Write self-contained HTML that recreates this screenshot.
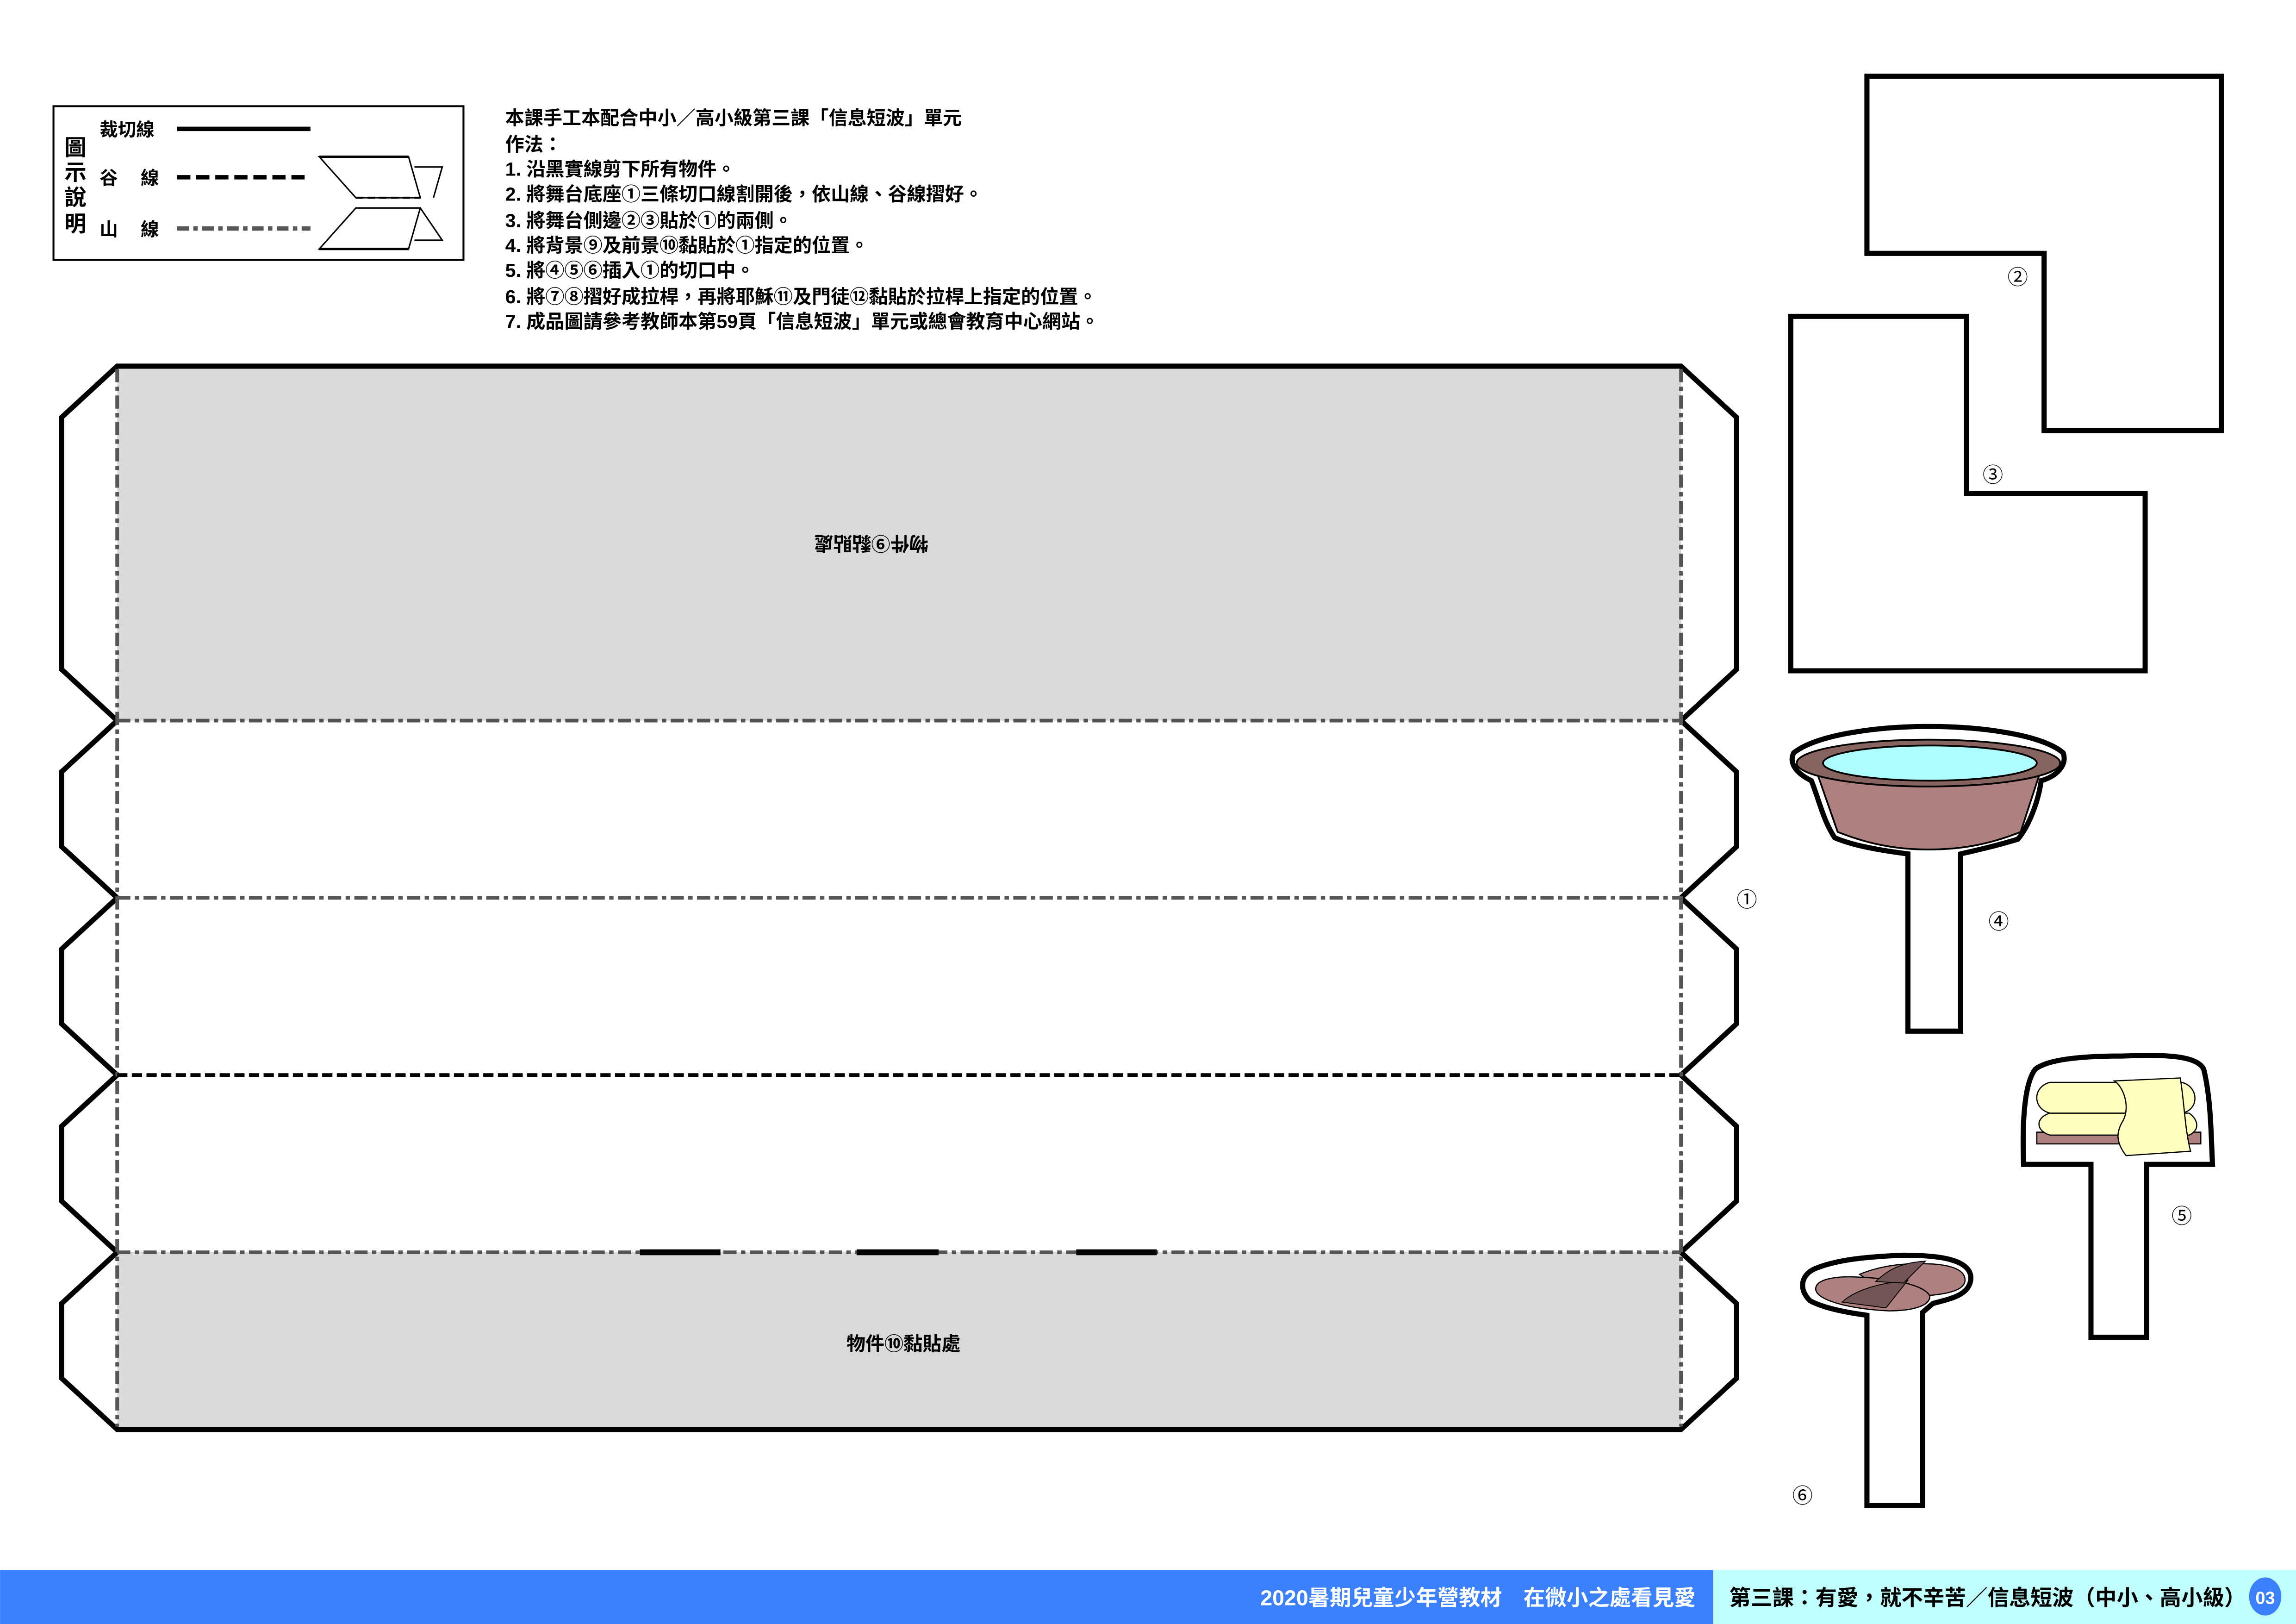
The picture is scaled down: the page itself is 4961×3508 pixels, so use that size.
<!DOCTYPE html>
<html><head><meta charset="utf-8"><style>
html,body{margin:0;padding:0;background:#fff;}
svg{display:block;}
text{font-family:"Liberation Sans","Noto Sans CJK TC",sans-serif;}
</style></head><body>
<svg width="4961" height="3508" viewBox="0 0 1568 1108.8" xmlns="http://www.w3.org/2000/svg">
<rect width="1568" height="1109" fill="#fff"/>
<!-- legend -->
<rect x="36.5" y="72.5" width="280" height="105" fill="none" stroke="#000" stroke-width="1.3"/>
<g font-size="15" font-weight="bold">
<text x="44" y="106">圖</text><text x="44" y="123">示</text><text x="44" y="140">說</text><text x="44" y="158">明</text>
</g>
<g font-size="12.5" font-weight="bold">
<text x="68" y="93">裁切線</text>
<text x="68" y="126">谷</text><text x="96" y="126">線</text>
<text x="68" y="161">山</text><text x="96" y="161">線</text>
</g>
<line x1="121" y1="88" x2="212" y2="88" stroke="#000" stroke-width="3"/>
<line x1="121" y1="121" x2="212" y2="121" stroke="#000" stroke-width="3" stroke-dasharray="9,4"/>
<line x1="121" y1="156" x2="212" y2="156" stroke="#555" stroke-width="3" stroke-dasharray="8,3,3,3"/>
<path d="M218,107 H279 L287,135 H243 Z" fill="#fff" stroke="#000" stroke-width="1"/>
<path d="M283,114 H302 L296,135" fill="none" stroke="#000" stroke-width="1"/>
<line x1="218" y1="107" x2="279" y2="107" stroke="#000" stroke-width="1.6"/>
<line x1="243" y1="135" x2="287" y2="135" stroke="#000" stroke-width="1.4" stroke-dasharray="5,3"/>
<path d="M243,142 H287 L279,170 H218 Z" fill="#fff" stroke="#000" stroke-width="1"/>
<path d="M287,142 L302,164 H283" fill="none" stroke="#000" stroke-width="1"/>
<line x1="218" y1="170" x2="279" y2="170" stroke="#000" stroke-width="1.6"/>
<!-- instructions -->
<g font-size="13" font-weight="bold">
<text x="345" y="85">本課手工本配合中小／高小級第三課「信息短波」單元</text>
<text x="345" y="103">作法：</text>
<text x="345" y="120">1. 沿黑實線剪下所有物件。</text>
<text x="345" y="137">2. 將舞台底座①三條切口線割開後，依山線、谷線摺好。</text>
<text x="345" y="155">3. 將舞台側邊②③貼於①的兩側。</text>
<text x="345" y="172">4. 將背景⑨及前景⑩黏貼於①指定的位置。</text>
<text x="345" y="189">5. 將④⑤⑥插入①的切口中。</text>
<text x="345" y="207">6. 將⑦⑧摺好成拉桿，再將耶穌⑪及門徒⑫黏貼於拉桿上指定的位置。</text>
<text x="345" y="224">7. 成品圖請參考教師本第59頁「信息短波」單元或總會教育中心網站。</text>
</g>
<!-- stage -->
<rect x="80" y="250" width="1068" height="242" fill="#d9d9d9"/>
<rect x="80" y="855" width="1068" height="121" fill="#d9d9d9"/>
<path d="M80,250 H1148 L1186,285 V457 L1148,492 L1186,527 V578 L1148,613 L1186,648 V699 L1148,734 L1186,769 V820 L1148,855 L1186,890 V941 L1148,976 H80 L42,941 V890 L80,855 L42,820 V769 L80,734 L42,699 V648 L80,613 L42,578 V527 L80,492 L42,457 V285 Z" fill="none" stroke="#000" stroke-width="3.5" stroke-linejoin="miter"/>
<g stroke="#555" stroke-width="2.5" stroke-dasharray="9,3,3,3">
<line x1="80" y1="252" x2="80" y2="974"/>
<line x1="1148" y1="252" x2="1148" y2="974"/>
<line x1="80" y1="492" x2="1148" y2="492"/>
<line x1="80" y1="613" x2="1148" y2="613"/>
<line x1="80" y1="855" x2="1148" y2="855"/>
</g>
<line x1="80" y1="734" x2="1148" y2="734" stroke="#000" stroke-width="2.5" stroke-dasharray="7,3"/>
<g stroke="#000" stroke-width="4">
<line x1="437" y1="855" x2="492" y2="855"/><line x1="585" y1="855" x2="641" y2="855"/><line x1="735" y1="855" x2="790" y2="855"/>
</g>
<text x="595" y="370" font-size="13" font-weight="bold" text-anchor="middle" transform="rotate(180 595 370)" dominant-baseline="middle">物件⑨黏貼處</text>
<text x="617" y="922" font-size="13" font-weight="bold" text-anchor="middle">物件⑩黏貼處</text>
<text x="1193" y="619" font-size="14" text-anchor="middle">①</text>
<!-- pieces 2,3 -->
<path d="M1275,52 H1517 V294 H1396 V173 H1275 Z" fill="#fff" stroke="#000" stroke-width="3.5"/>
<text x="1378" y="194" font-size="14" text-anchor="middle">②</text>
<path d="M1223,216 H1343 V337 H1465 V458 H1223 Z" fill="#fff" stroke="#000" stroke-width="3.5"/>
<text x="1361" y="329" font-size="14" text-anchor="middle">③</text>
<!-- bowl 4 -->
<path d="M1303,704 V583 C1280,580 1265,577 1253,572 C1245,560 1242,545 1237,533 C1225,527 1222,520 1225,514 C1240,502 1280,496 1317,496 C1355,496 1395,502 1409,514 C1412,522 1405,530 1394,533 C1392,548 1385,565 1378,573 C1365,577 1352,580 1339,583 V704 Z" fill="#fff" stroke="#000" stroke-width="3.5"/>
<path d="M1240,525 L1255,568 C1280,578 1300,580 1317,580 C1335,580 1355,578 1380,568 L1394,525 Z" fill="#ae8080" stroke="#000" stroke-width="1.2"/>
<ellipse cx="1317" cy="521" rx="90" ry="16" fill="#886460" stroke="#000" stroke-width="1.2"/>
<ellipse cx="1318" cy="521" rx="73" ry="12" fill="#aefeff" stroke="#000" stroke-width="1.2"/>
<text x="1365" y="634" font-size="14" text-anchor="middle">④</text>
<!-- towel 5 -->
<path d="M1428,913 V795 H1382 C1381,770 1382,740 1390,730 C1400,722 1430,721 1450,721 C1475,720 1500,720 1505,730 C1510,750 1510,775 1511,795 H1466 V913 Z" fill="#fff" stroke="#000" stroke-width="3.5"/>
<rect x="1391" y="773" width="112" height="8" fill="#ae8080" stroke="#000" stroke-width="0.8"/>
<path d="M1400,760 H1495 C1502,765 1502,772 1495,775 H1400 C1390,772 1390,763 1400,760 Z" fill="#ffffc0" stroke="#000" stroke-width="0.8"/>
<path d="M1400,739 H1490 C1502,742 1502,758 1490,760 H1400 C1388,757 1388,742 1400,739 Z" fill="#ffffc0" stroke="#000" stroke-width="0.8"/>
<path d="M1444,738 L1489,736 C1492,755 1492,770 1496,786 L1452,789 C1445,780 1445,773 1450,765 C1455,755 1450,742 1444,738 Z" fill="#ffffc0" stroke="#000" stroke-width="0.8"/>
<text x="1490" y="835" font-size="14" text-anchor="middle">⑤</text>
<!-- slippers 6 -->
<path d="M1275,1028 V898 C1260,896 1245,893 1236,888 C1228,880 1230,870 1240,866 C1255,860 1275,858 1300,857 C1325,857 1345,860 1346,872 C1346,885 1330,887 1320,890 L1313,896 V1028 Z" fill="#fff" stroke="#000" stroke-width="3.5"/>
<path d="M1270,870 C1285,864 1300,862 1320,863 C1335,864 1342,868 1342,874 C1342,881 1330,884 1310,885 L1290,884 Z" fill="#ae8080" stroke="#000" stroke-width="0.8"/>
<path d="M1240,880 C1240,873 1255,871 1270,872 C1295,873 1315,878 1318,885 C1318,892 1305,895 1290,895 C1265,894 1240,888 1240,880 Z" fill="#ae8080" stroke="#000" stroke-width="0.8"/>
<path d="M1258,889 C1268,880 1285,876 1303,874 L1288,893 Z" fill="#735555" stroke="#000" stroke-width="0.6"/>
<path d="M1281,875 C1290,866 1300,862 1315,861 L1300,876 Z" fill="#735555" stroke="#000" stroke-width="0.6"/>
<text x="1231" y="1026" font-size="14" text-anchor="middle">⑥</text>
<!-- footer -->
<rect x="0" y="1072" width="1170" height="37" fill="#3a80ff"/>
<rect x="1170" y="1072" width="398" height="37" fill="#c0fdfd"/>
<text x="1158" y="1096" font-size="14.7" font-weight="bold" fill="#fff" text-anchor="end">2020暑期兒童少年營教材　在微小之處看見愛</text>
<text x="1181" y="1096" font-size="14.7" font-weight="bold" fill="#000">第三課：有愛，就不辛苦／信息短波（中小、高小級）</text>
<ellipse cx="1547" cy="1090" rx="11" ry="13" fill="#3a80ff"/>
<text x="1547" y="1095" font-size="12" font-weight="bold" fill="#fff" text-anchor="middle">03</text>
</svg>
</body></html>
